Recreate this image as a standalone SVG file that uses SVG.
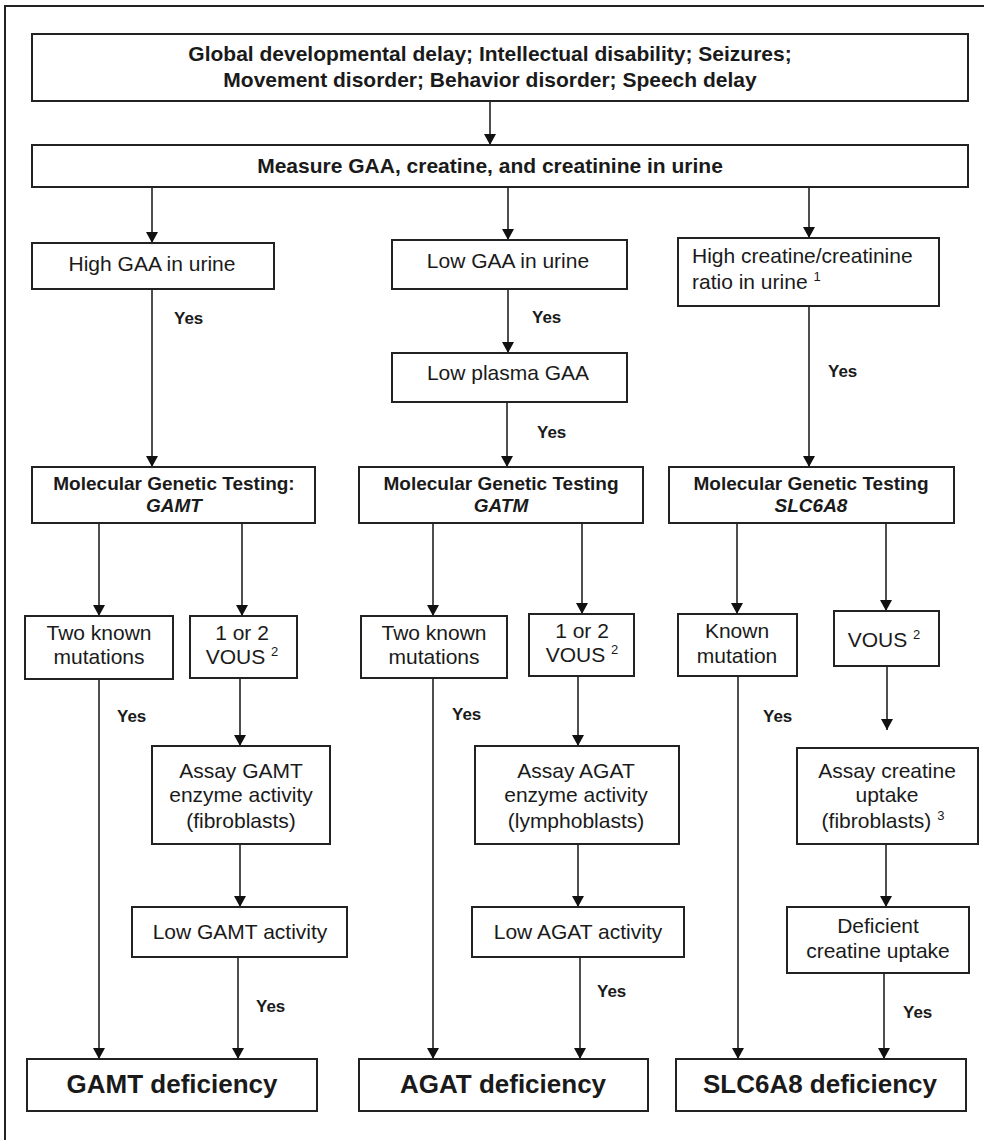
<svg xmlns="http://www.w3.org/2000/svg" width="984" height="1140" viewBox="0 0 984 1140">
<defs>
<marker id="ah" markerUnits="userSpaceOnUse" markerWidth="12" markerHeight="12" refX="11" refY="6" orient="auto">
<path d="M0,0 L11,6 L0,12 z" fill="#111"/>
</marker>
</defs>
<style>
.box{fill:#fff;stroke:#222;stroke-width:2}
.frame{fill:none;stroke:#222;stroke-width:2}
text{font-family:"Liberation Sans",Arial,sans-serif;fill:#1a1a1a}
.t{font-size:21px;text-anchor:middle}
.l{font-size:21px;text-anchor:start}
.top{font-size:21px;font-weight:bold;text-anchor:middle}
.mgt{font-size:19px;font-weight:bold;text-anchor:middle}
.it{font-style:italic}
.yes{font-size:17px;font-weight:bold}
.def{font-size:26px;font-weight:bold;text-anchor:middle}
.sup{font-size:13px}
#connectors line{stroke:#222;stroke-width:1.6;marker-end:url(#ah)}
</style>
<rect class="frame" x="5" y="6" width="1000" height="1160"/>

<g id="connectors">
<line x1="490" y1="101" x2="490" y2="145"/>
<line x1="152" y1="187" x2="152" y2="243"/>
<line x1="508" y1="187" x2="508" y2="240"/>
<line x1="809" y1="187" x2="809" y2="238"/>
<line x1="152" y1="289" x2="152" y2="467"/>
<line x1="508" y1="289" x2="508" y2="353"/>
<line x1="507" y1="402" x2="507" y2="467"/>
<line x1="809" y1="306" x2="809" y2="467"/>
<line x1="99" y1="523" x2="99" y2="616"/>
<line x1="242" y1="523" x2="242" y2="616"/>
<line x1="433" y1="523" x2="433" y2="616"/>
<line x1="582" y1="523" x2="582" y2="614"/>
<line x1="737" y1="523" x2="737" y2="614"/>
<line x1="886" y1="523" x2="886" y2="611"/>
<line x1="240" y1="678" x2="240" y2="746"/>
<line x1="578" y1="676" x2="578" y2="746"/>
<line x1="887" y1="666" x2="887" y2="730"/>
<line x1="240" y1="844" x2="240" y2="907"/>
<line x1="578" y1="844" x2="578" y2="907"/>
<line x1="886" y1="844" x2="886" y2="907"/>
<line x1="99" y1="679" x2="99" y2="1059"/>
<line x1="238" y1="957" x2="238" y2="1059"/>
<line x1="433" y1="678" x2="433" y2="1059"/>
<line x1="580" y1="957" x2="580" y2="1059"/>
<line x1="738" y1="676" x2="738" y2="1059"/>
<line x1="884" y1="973" x2="884" y2="1059"/>
<text class="yes" x="174" y="324">Yes</text>
<text class="yes" x="532" y="323">Yes</text>
<text class="yes" x="537" y="438">Yes</text>
<text class="yes" x="828" y="377">Yes</text>
<text class="yes" x="117" y="722">Yes</text>
<text class="yes" x="452" y="720">Yes</text>
<text class="yes" x="763" y="722">Yes</text>
<text class="yes" x="256" y="1012">Yes</text>
<text class="yes" x="597" y="997">Yes</text>
<text class="yes" x="903" y="1018">Yes</text>
</g>

<g id="n-symptoms">
<rect class="box" x="32" y="34" width="936" height="67"/>
<text class="top" x="490" y="61">Global developmental delay; Intellectual disability; Seizures;</text>
<text class="top" x="490" y="87">Movement disorder; Behavior disorder; Speech delay</text>
</g>
<g id="n-measure">
<rect class="box" x="32" y="145" width="936" height="42"/>
<text class="top" x="490" y="173">Measure GAA, creatine, and creatinine in urine</text>
</g>

<g id="n-highgaa">
<rect class="box" x="32" y="243" width="242" height="46"/>
<text class="t" x="152" y="271">High GAA in urine</text>
</g>
<g id="n-lowgaa">
<rect class="box" x="392" y="240" width="235" height="49"/>
<text class="t" x="508" y="268">Low GAA in urine</text>
</g>
<g id="n-lowplasma">
<rect class="box" x="392" y="353" width="235" height="49"/>
<text class="t" x="508" y="380">Low plasma GAA</text>
</g>
<g id="n-highcr">
<rect class="box" x="678" y="238" width="261" height="68"/>
<text class="l" x="692" y="263">High creatine/creatinine</text>
<text class="l" x="692" y="289">ratio in urine <tspan class="sup" dy="-8">1</tspan></text>
</g>

<g id="n-mgt-gamt">
<rect class="box" x="32" y="467" width="283" height="56"/>
<text class="mgt" x="174" y="490">Molecular Genetic Testing:</text>
<text class="mgt it" x="174" y="512">GAMT</text>
</g>
<g id="n-mgt-gatm">
<rect class="box" x="359" y="467" width="284" height="56"/>
<text class="mgt" x="501" y="490">Molecular Genetic Testing</text>
<text class="mgt it" x="501" y="512">GATM</text>
</g>
<g id="n-mgt-slc">
<rect class="box" x="669" y="467" width="285" height="56"/>
<text class="mgt" x="811" y="490">Molecular Genetic Testing</text>
<text class="mgt it" x="811" y="512">SLC6A8</text>
</g>

<g id="n-gamt-two">
<rect class="box" x="25" y="616" width="148" height="63"/>
<text class="t" x="99" y="640">Two known</text>
<text class="t" x="99" y="664">mutations</text>
</g>
<g id="n-gamt-vous">
<rect class="box" x="190" y="616" width="107" height="62"/>
<text class="t" x="242" y="640">1 or 2</text>
<text class="t" x="242" y="664">VOUS <tspan class="sup" dy="-8">2</tspan></text>
</g>
<g id="n-gatm-two">
<rect class="box" x="361" y="616" width="146" height="62"/>
<text class="t" x="434" y="640">Two known</text>
<text class="t" x="434" y="664">mutations</text>
</g>
<g id="n-gatm-vous">
<rect class="box" x="529" y="614" width="105" height="62"/>
<text class="t" x="582" y="638">1 or 2</text>
<text class="t" x="582" y="662">VOUS <tspan class="sup" dy="-8">2</tspan></text>
</g>
<g id="n-slc-known">
<rect class="box" x="678" y="614" width="119" height="62"/>
<text class="t" x="737" y="638">Known</text>
<text class="t" x="737" y="663">mutation</text>
</g>
<g id="n-slc-vous">
<rect class="box" x="834" y="611" width="105" height="55"/>
<text class="t" x="884" y="647">VOUS <tspan class="sup" dy="-8">2</tspan></text>
</g>

<g id="n-assay-gamt">
<rect class="box" x="152" y="746" width="178" height="98"/>
<text class="t" x="241" y="778">Assay GAMT</text>
<text class="t" x="241" y="802">enzyme activity</text>
<text class="t" x="241" y="828">(fibroblasts)</text>
</g>
<g id="n-assay-agat">
<rect class="box" x="475" y="746" width="204" height="98"/>
<text class="t" x="576" y="778">Assay AGAT</text>
<text class="t" x="576" y="802">enzyme activity</text>
<text class="t" x="576" y="828">(lymphoblasts)</text>
</g>
<g id="n-assay-cr">
<rect class="box" x="797" y="748" width="181" height="96"/>
<text class="t" x="887" y="778">Assay creatine</text>
<text class="t" x="887" y="802">uptake</text>
<text class="t" x="883" y="828">(fibroblasts) <tspan class="sup" dy="-8">3</tspan></text>
</g>

<g id="n-low-gamt">
<rect class="box" x="132" y="907" width="215" height="50"/>
<text class="t" x="240" y="939">Low GAMT activity</text>
</g>
<g id="n-low-agat">
<rect class="box" x="472" y="907" width="212" height="50"/>
<text class="t" x="578" y="939">Low AGAT activity</text>
</g>
<g id="n-def-uptake">
<rect class="box" x="787" y="907" width="182" height="66"/>
<text class="t" x="878" y="933">Deficient</text>
<text class="t" x="878" y="958">creatine uptake</text>
</g>

<g id="n-gamt-def">
<rect class="box" x="27" y="1059" width="290" height="52"/>
<text class="def" x="172" y="1093">GAMT deficiency</text>
</g>
<g id="n-agat-def">
<rect class="box" x="359" y="1059" width="289" height="52"/>
<text class="def" x="503" y="1093">AGAT deficiency</text>
</g>
<g id="n-slc-def">
<rect class="box" x="676" y="1059" width="290" height="52"/>
<text class="def" x="820" y="1093">SLC6A8 deficiency</text>
</g>
</svg>
